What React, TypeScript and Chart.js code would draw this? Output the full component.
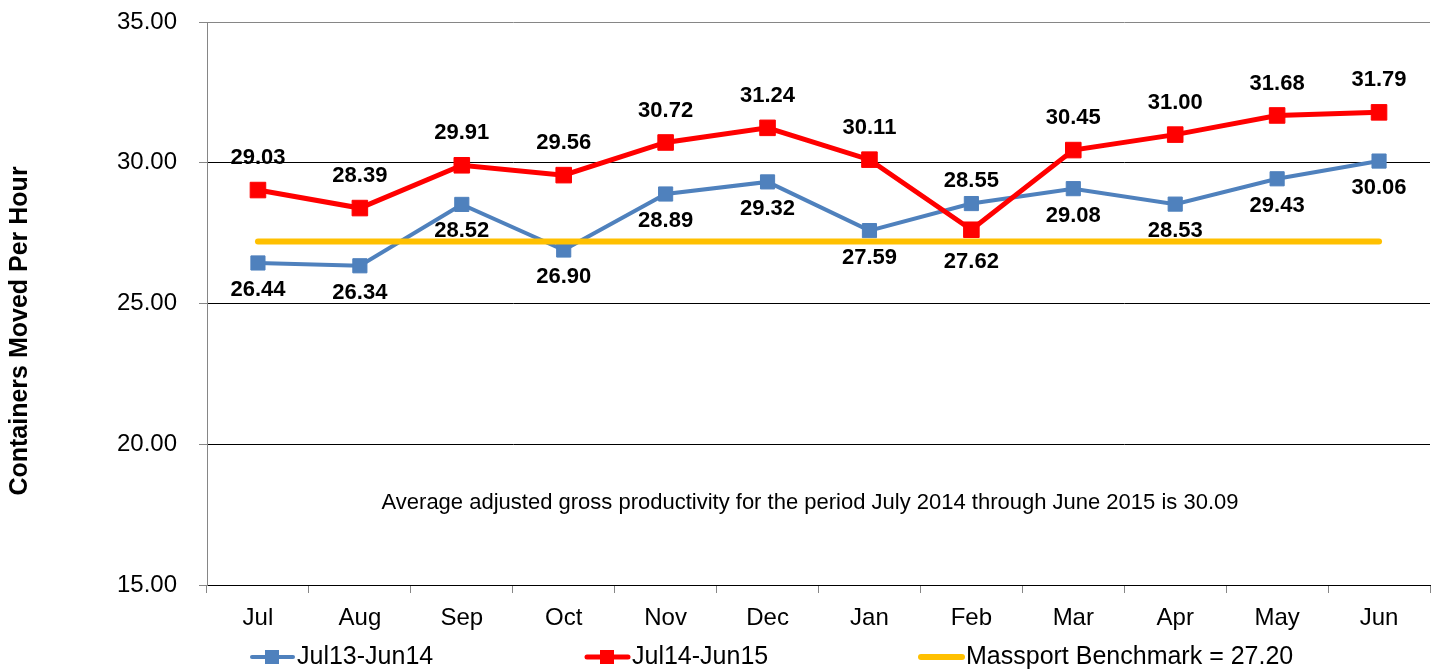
import React, { useEffect, useRef } from "react";
import { Chart, registerables } from "chart.js";

Chart.register(...registerables);

const months = ["Jul", "Aug", "Sep", "Oct", "Nov", "Dec", "Jan", "Feb", "Mar", "Apr", "May", "Jun"];
const seriesJul13 = [26.44, 26.34, 28.52, 26.9, 28.89, 29.32, 27.59, 28.55, 29.08, 28.53, 29.43, 30.06];
const seriesJul14 = [29.03, 28.39, 29.91, 29.56, 30.72, 31.24, 30.11, 27.62, 30.45, 31.0, 31.68, 31.79];
const benchmark = [27.2, 27.2, 27.2, 27.2, 27.2, 27.2, 27.2, 27.2, 27.2, 27.2, 27.2, 27.2];
const seriesNames = ["Jul13-Jun14", "Jul14-Jun15", "Massport Benchmark = 27.20"];
const yTicks = [15, 20, 25, 30, 35];
const yTitle = "Containers Moved Per Hour";
const noteText = "Average adjusted gross productivity for the period July 2014 through June 2015 is 30.09";

const FONT = "'Liberation Sans', Arial, sans-serif";
const BLUE = "#4F81BD";
const RED = "#FF0000";
const YELLOW = "#FFC000";

const extrasPlugin = {
  id: "extras",
  afterDatasetsDraw(chart: any) {
    const ctx = chart.ctx;
    ctx.save();
    ctx.font = `bold 22px ${FONT}`;
    ctx.fillStyle = "#000";
    ctx.textAlign = "center";
    ctx.textBaseline = "middle";
    const blueMeta = chart.getDatasetMeta(0);
    const redMeta = chart.getDatasetMeta(1);
    blueMeta.data.forEach((pt: any, i: number) => {
      const above = seriesJul13[i] > seriesJul14[i];
      ctx.fillText(seriesJul13[i].toFixed(2), pt.x, above ? pt.y - 23 : pt.y + 27);
    });
    redMeta.data.forEach((pt: any, i: number) => {
      const below = seriesJul14[i] < seriesJul13[i];
      ctx.fillText(seriesJul14[i].toFixed(2), pt.x, below ? pt.y + 32 : pt.y - 32);
    });
    ctx.restore();
  },
  afterDraw(chart: any) {
    const ctx = chart.ctx;
    ctx.save();
    ctx.font = `bold 25px ${FONT}`;
    ctx.fillStyle = "#000";
    ctx.textAlign = "center";
    ctx.textBaseline = "middle";
    ctx.translate(20, 331);
    ctx.rotate(-Math.PI / 2);
    ctx.fillText(yTitle, 0, 0);
    ctx.restore();

    ctx.save();
    ctx.font = `22px ${FONT}`;
    ctx.fillStyle = "#000";
    ctx.textAlign = "center";
    ctx.textBaseline = "middle";
    ctx.fillText(noteText, 810, 503);

    const legendY = 657;
    const items = [
      { x: 250, color: BLUE, marker: true, w: 4 },
      { x: 585, color: RED, marker: true, w: 5 },
      { x: 919, color: YELLOW, marker: false, w: 6 },
    ];
    items.forEach((it, i) => {
      ctx.strokeStyle = it.color;
      ctx.lineWidth = it.w;
      ctx.lineCap = "round";
      ctx.beginPath();
      ctx.moveTo(it.x + 2, legendY);
      ctx.lineTo(it.x + 43, legendY);
      ctx.stroke();
      if (it.marker) {
        ctx.fillStyle = it.color;
        ctx.fillRect(it.x + 22 - 7, legendY - 7, 14, 14);
      }
      ctx.fillStyle = "#000";
      ctx.font = `25px ${FONT}`;
      ctx.textAlign = "left";
      ctx.fillText(seriesNames[i], it.x + 47, legendY);
    });
    ctx.restore();
  },
};

export default function App() {
  const ref = useRef<HTMLCanvasElement | null>(null);
  useEffect(() => {
    document.body.style.margin = "0";
    const canvas = ref.current!;
    const chart = new Chart(canvas, {
      type: "line",
      data: {
        labels: months,
        datasets: [
          {
            label: seriesNames[0],
            data: seriesJul13,
            borderColor: BLUE,
            backgroundColor: BLUE,
            borderWidth: 4,
            pointStyle: "rect",
            pointRadius: 10,
            pointBorderWidth: 1,
            pointBackgroundColor: BLUE,
            pointBorderColor: BLUE,
            order: 2,
          },
          {
            label: seriesNames[1],
            data: seriesJul14,
            borderColor: RED,
            backgroundColor: RED,
            borderWidth: 5,
            pointStyle: "rect",
            pointRadius: 11,
            pointBorderWidth: 1,
            pointBackgroundColor: RED,
            pointBorderColor: RED,
            order: 1,
          },
          {
            label: seriesNames[2],
            data: benchmark,
            borderColor: YELLOW,
            backgroundColor: YELLOW,
            borderWidth: 6,
            borderCapStyle: "round",
            pointRadius: 0,
            order: 0,
          },
        ],
      },
      options: {
        responsive: false,
        animation: false,
        layout: { autoPadding: false, padding: { top: 22, right: 5, left: 0, bottom: 0 } },
        plugins: {
          legend: { display: false },
          tooltip: { enabled: false },
          title: { display: false },
        },
        scales: {
          x: {
            type: "category",
            offset: true,
            grid: {
              offset: true,
              drawOnChartArea: true,
              color: (c: any) => (c.index === months.length ? "#868686" : "rgba(0,0,0,0)"),
              tickColor: "#868686",
              tickLength: 8,
              lineWidth: 1,
            },
            border: { display: true, color: "#000", width: 1 },
            ticks: { color: "#000", font: { family: FONT, size: 24 }, padding: 11, maxRotation: 0 },
            afterFit: (s: any) => {
              s.height = 86;
              s.paddingLeft = 0;
              s.paddingRight = 0;
            },
          },
          y: {
            min: 15,
            max: 35,
            afterBuildTicks: (s: any) => {
              s.ticks = yTicks.map((v) => ({ value: v }));
            },
            grid: {
              color: (c: any) => (c.tick && c.tick.value === 35 ? "#868686" : "#000"),
              tickColor: "#868686",
              tickLength: 8,
              lineWidth: 1,
            },
            border: { display: true, color: "#868686", width: 1 },
            ticks: {
              color: "#000",
              font: { family: FONT, size: 24 },
              padding: 22,
              callback: (v: any) => Number(v).toFixed(2),
            },
            afterFit: (s: any) => {
              s.width = 207;
              s.paddingTop = 0;
              s.paddingBottom = 0;
            },
          },
        },
      },
      plugins: [extrasPlugin],
    });
    return () => chart.destroy();
  }, []);
  return (
    <div style={{ width: 1435, height: 671, background: "#fff" }}>
      <canvas ref={ref} width={1435} height={671} />
    </div>
  );
}
